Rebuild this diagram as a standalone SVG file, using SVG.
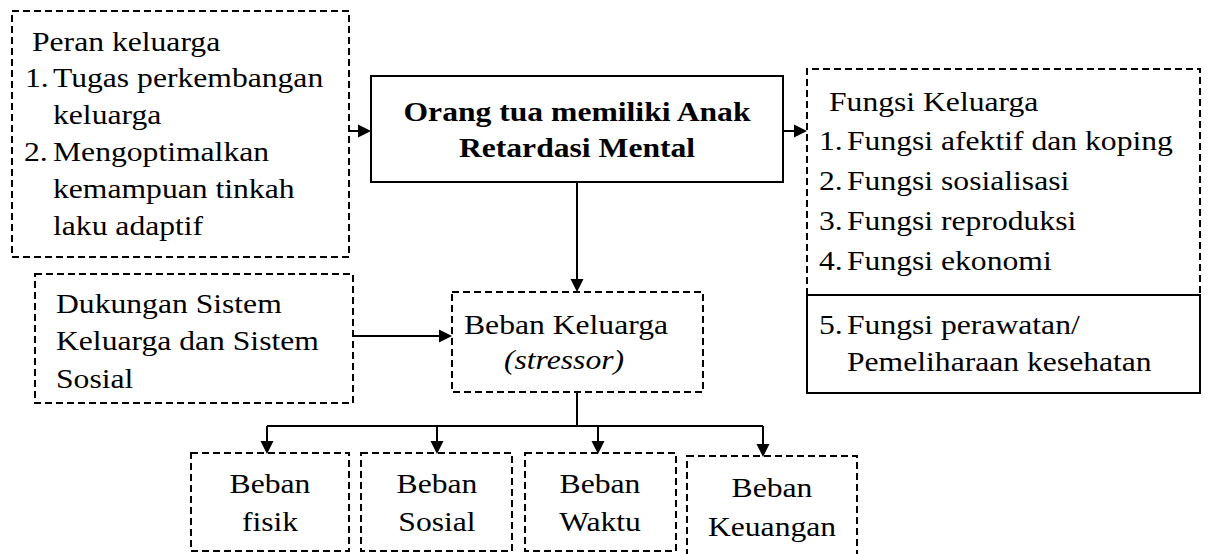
<svg xmlns="http://www.w3.org/2000/svg" width="1208" height="554" viewBox="0 0 1208 554">
<style>
.dash{fill:none;stroke:#000;stroke-width:2;stroke-dasharray:7 4}
.solid{fill:none;stroke:#000;stroke-width:2}
.conn{fill:none;stroke:#000;stroke-width:2}
.ah{fill:#000;stroke:none}
</style>
<rect width="1208" height="554" fill="#fff"/>
<g font-family="Liberation Serif, Times New Roman, serif" font-size="28" fill="#000">

<g id="peran">
<rect class="dash" x="12" y="11" width="337" height="246"/>
<text transform="matrix(1.13 0 0 1 32 51)">Peran keluarga</text>
<text transform="matrix(1.13 0 0 1 25 87)">1.</text>
<text transform="matrix(1.13 0 0 1 53 87)">Tugas perkembangan</text>
<text transform="matrix(1.13 0 0 1 53 124)">keluarga</text>
<text transform="matrix(1.13 0 0 1 24 161)">2.</text>
<text transform="matrix(1.13 0 0 1 53 161)">Mengoptimalkan</text>
<text transform="matrix(1.13 0 0 1 53 198)">kemampuan tinkah</text>
<text transform="matrix(1.13 0 0 1 53 235)">laku adaptif</text>
</g>

<g id="orangtua">
<rect class="solid" x="371" y="76" width="412" height="106"/>
<text font-weight="bold" text-anchor="middle" transform="matrix(1.13 0 0 1 577 121)">Orang tua memiliki Anak</text>
<text font-weight="bold" text-anchor="middle" transform="matrix(1.13 0 0 1 577 157)">Retardasi Mental</text>
</g>

<g id="fungsi">
<path class="dash" d="M807,295 V69 H1200 V295"/>
<text transform="matrix(1.13 0 0 1 829 111)">Fungsi Keluarga</text>
<text transform="matrix(1.13 0 0 1 819 150)">1.</text>
<text transform="matrix(1.13 0 0 1 847 150)">Fungsi afektif dan koping</text>
<text transform="matrix(1.13 0 0 1 819 190)">2.</text>
<text transform="matrix(1.13 0 0 1 847 190)">Fungsi sosialisasi</text>
<text transform="matrix(1.13 0 0 1 819 230)">3.</text>
<text transform="matrix(1.13 0 0 1 847 230)">Fungsi reproduksi</text>
<text transform="matrix(1.13 0 0 1 819 270)">4.</text>
<text transform="matrix(1.13 0 0 1 847 270)">Fungsi ekonomi</text>
</g>

<g id="fungsi5">
<rect class="solid" x="807" y="295" width="393" height="98"/>
<text transform="matrix(1.13 0 0 1 819 334)">5.</text>
<text transform="matrix(1.13 0 0 1 847 334)">Fungsi perawatan/</text>
<text transform="matrix(1.13 0 0 1 847 371)">Pemeliharaan kesehatan</text>
</g>

<g id="dukungan">
<rect class="dash" x="35" y="274" width="318" height="129"/>
<text transform="matrix(1.13 0 0 1 56 313)">Dukungan Sistem</text>
<text transform="matrix(1.13 0 0 1 56 350)">Keluarga dan Sistem</text>
<text transform="matrix(1.13 0 0 1 56 388)">Sosial</text>
</g>

<g id="bebankeluarga">
<rect class="dash" x="452" y="292" width="251" height="100"/>
<text transform="matrix(1.13 0 0 1 464 334)">Beban Keluarga</text>
<text font-style="italic" transform="matrix(1.13 0 0 1 504 369)">(stressor)</text>
</g>

<g id="fisik">
<rect class="dash" x="191" y="453" width="158" height="98"/>
<text text-anchor="middle" transform="matrix(1.13 0 0 1 270 493)">Beban</text>
<text text-anchor="middle" transform="matrix(1.13 0 0 1 270 531)">fisik</text>
</g>

<g id="sosial">
<rect class="dash" x="361" y="453" width="151" height="98"/>
<text text-anchor="middle" transform="matrix(1.13 0 0 1 437 493)">Beban</text>
<text text-anchor="middle" transform="matrix(1.13 0 0 1 437 531)">Sosial</text>
</g>

<g id="waktu">
<rect class="dash" x="525" y="453" width="151" height="98"/>
<text text-anchor="middle" transform="matrix(1.13 0 0 1 600 493)">Beban</text>
<text text-anchor="middle" transform="matrix(1.13 0 0 1 600 531)">Waktu</text>
</g>

<g id="keuangan">
<rect class="dash" x="687" y="456" width="170" height="100"/>
<text text-anchor="middle" transform="matrix(1.13 0 0 1 772 497)">Beban</text>
<text text-anchor="middle" transform="matrix(1.13 0 0 1 772 536)">Keuangan</text>
</g>
</g>

<g id="connectors">
<path class="conn" d="M349,131 H360"/>
<polygon class="ah" points="371,131 358,124.5 358,137.5"/>
<path class="conn" d="M783,131 H796"/>
<polygon class="ah" points="807,131 794,124.5 794,137.5"/>
<path class="conn" d="M577,182 V281"/>
<polygon class="ah" points="577,292 570.5,279 583.5,279"/>
<path class="conn" d="M353,336 H441"/>
<polygon class="ah" points="452,336 439,329.5 439,342.5"/>
<path class="conn" d="M577,392 V426 M267,426 H763 M267,426 V442 M437,426 V442 M598,426 V442 M763,426 V445"/>
<polygon class="ah" points="267,454 260.5,441 273.5,441"/>
<polygon class="ah" points="437,454 430.5,441 443.5,441"/>
<polygon class="ah" points="598,454 591.5,441 604.5,441"/>
<polygon class="ah" points="763,457 756.5,444 769.5,444"/>
</g>
</svg>
